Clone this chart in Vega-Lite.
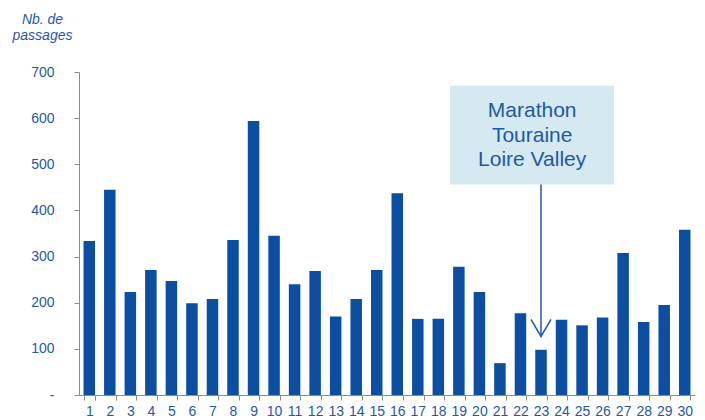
{
  "$schema": "https://vega.github.io/schema/vega-lite/v6.json",
  "autosize": "none",
  "width": 616,
  "height": 323,
  "padding": {"left": 79, "top": 72, "right": 10, "bottom": 25},
  "background": "white",
  "config": {"view": {"stroke": null}, "font": "Liberation Sans"},
  "datasets": {
    "bars": [
      {"jour": "1", "passages": 334}, {"jour": "2", "passages": 445}, {"jour": "3", "passages": 223},
      {"jour": "4", "passages": 271}, {"jour": "5", "passages": 247}, {"jour": "6", "passages": 199},
      {"jour": "7", "passages": 208}, {"jour": "8", "passages": 336}, {"jour": "9", "passages": 594},
      {"jour": "10", "passages": 345}, {"jour": "11", "passages": 240}, {"jour": "12", "passages": 269},
      {"jour": "13", "passages": 170}, {"jour": "14", "passages": 208}, {"jour": "15", "passages": 271},
      {"jour": "16", "passages": 437}, {"jour": "17", "passages": 165}, {"jour": "18", "passages": 165},
      {"jour": "19", "passages": 278}, {"jour": "20", "passages": 223}, {"jour": "21", "passages": 69},
      {"jour": "22", "passages": 177}, {"jour": "23", "passages": 98}, {"jour": "24", "passages": 163},
      {"jour": "25", "passages": 151}, {"jour": "26", "passages": 168}, {"jour": "27", "passages": 308},
      {"jour": "28", "passages": 158}, {"jour": "29", "passages": 195}, {"jour": "30", "passages": 358}
    ],
    "box": [{"x1": 18.07, "x2": 26.06, "y1": 456, "y2": 670}],
    "label": [
      {"x": 22.07, "y": 616, "t": "Marathon"},
      {"x": 22.07, "y": 562, "t": "Touraine"},
      {"x": 22.07, "y": 509, "t": "Loire Valley"}
    ],
    "arrow": [{"x": 22.5, "y1": 456, "y2": 127}]
  },
  "resolve": {"scale": {"x": "independent"}, "axis": {"x": "independent"}},
  "layer": [
    {
      "data": {"name": "bars"},
      "mark": {"type": "bar", "color": "#0b4ea2"},
      "encoding": {
        "x": {
          "field": "jour", "type": "ordinal", "sort": null,
          "scale": {"paddingInner": 0.44, "paddingOuter": 0.22},
          "axis": {
            "title": null, "labelAngle": 0, "labelFontSize": 14, "labelColor": "#1f58a8",
            "labelFont": "Liberation Sans", "labelPadding": 4,
            "domainColor": "#8c8c8c", "tickColor": "#8c8c8c", "tickSize": 5,
            "tickBand": "extent", "grid": false
          }
        },
        "y": {
          "field": "passages", "type": "quantitative",
          "scale": {"domain": [0, 700], "nice": false},
          "axis": {
            "values": [0, 100, 200, 300, 400, 500, 600, 700],
            "labelExpr": "datum.value == 0 ? '-\u00a0\u00a0\u00a0\u00a0' : datum.label",
            "labelFontSize": 14, "labelColor": "#1f58a8", "labelFont": "Liberation Sans",
            "labelPadding": 20, "tickSize": 5, "domainColor": "#8c8c8c", "tickColor": "#8c8c8c",
            "grid": false,
            "title": ["Nb. de", "passages"],
            "titleAngle": 0, "titleAlign": "center", "titleBaseline": "alphabetic",
            "titleX": -37, "titleY": -49, "titleFontSize": 14, "titleFontStyle": "italic",
            "titleFontWeight": "normal", "titleColor": "#1f58a8", "titleLineHeight": 16,
            "titleFont": "Liberation Sans"
          }
        }
      }
    },
    {
      "data": {"name": "box"},
      "mark": {"type": "rect", "color": "#d4e9f0"},
      "encoding": {
        "x": {"field": "x1", "type": "quantitative", "scale": {"domain": [0, 30], "nice": false, "zero": false}, "axis": null},
        "x2": {"field": "x2"},
        "y": {"field": "y1", "type": "quantitative"},
        "y2": {"field": "y2"}
      }
    },
    {
      "data": {"name": "label"},
      "mark": {"type": "text", "fontSize": 21, "color": "#1f58a8", "align": "center", "baseline": "middle", "font": "Liberation Sans"},
      "encoding": {
        "x": {"field": "x", "type": "quantitative", "scale": {"domain": [0, 30], "nice": false, "zero": false}, "axis": null},
        "y": {"field": "y", "type": "quantitative"},
        "text": {"field": "t", "type": "nominal"}
      }
    },
    {
      "data": {"name": "arrow"},
      "mark": {"type": "rule", "color": "#1f58a8", "strokeWidth": 1.5},
      "encoding": {
        "x": {"field": "x", "type": "quantitative", "scale": {"domain": [0, 30], "nice": false, "zero": false}, "axis": null},
        "y": {"field": "y1", "type": "quantitative"},
        "y2": {"field": "y2"}
      }
    },
    {
      "data": {"name": "arrow"},
      "mark": {"type": "point", "shape": "M-1,-1.7L0,0L1,-1.7", "filled": false, "size": 400, "stroke": "#1f58a8", "strokeWidth": 1.5, "opacity": 1},
      "encoding": {
        "x": {"field": "x", "type": "quantitative", "scale": {"domain": [0, 30], "nice": false, "zero": false}, "axis": null},
        "y": {"field": "y2", "type": "quantitative"}
      }
    }
  ]
}
